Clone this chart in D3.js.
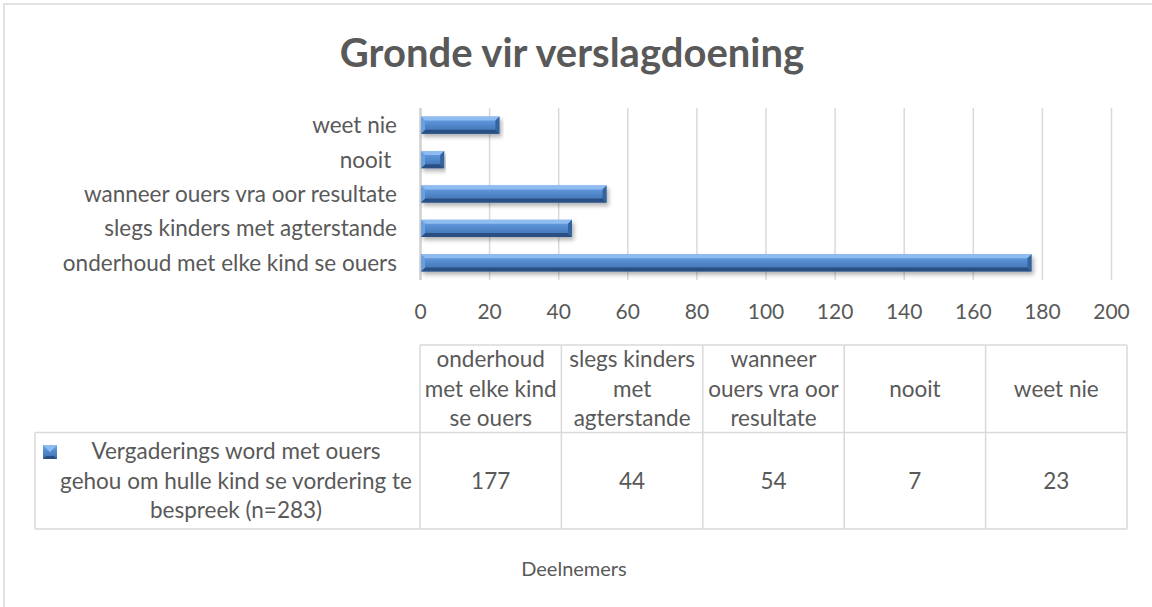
<!DOCTYPE html>
<html>
<head>
<meta charset="utf-8">
<script src="https://cdn.jsdelivr.net/npm/d3@7"></script>
<style>
  html, body { margin: 0; padding: 0; background: #fff; }
  svg { display: block; }
  text { font-family: Lato, "Open Sans", sans-serif; fill: #595959; white-space: pre; }
</style>
</head>
<body>
<svg id="chart" width="1152" height="607"></svg>
<script>
// ---- data ----
const title = "Gronde vir verslagdoening";
const categories = ["onderhoud met elke kind se ouers", "slegs kinders met agterstande", "wanneer ouers vra oor resultate", "nooit ", "weet nie"];
const values = [177, 44, 54, 7, 23];
const seriesName = "Vergaderings word met ouers gehou om hulle kind se vordering te bespreek (n=283)";
const seriesLines = ["Vergaderings word met ouers", "gehou om hulle kind se vordering te", "bespreek (n=283)"];
const xTicks = [0, 20, 40, 60, 80, 100, 120, 140, 160, 180, 200];
const axisTitle = "Deelnemers";

// ---- layout ----
const svg = d3.select("#chart");
const W = 1152, H = 607;
const plot = { left: 420, right: 1111, top: 108, bottom: 280 };
const table = { left: 35, colLeft: 420, right: 1127, top: 345, mid: 432.5, bottom: 529 };
const fs = 22.5;
const tickFs = 21;
const lineH = 29.5;
const grid = "#d9d9d9";

// chart border
svg.append("rect").attr("x", 4).attr("y", 4).attr("width", W + 20).attr("height", H + 20)
  .attr("fill", "#fff").attr("stroke", grid).attr("stroke-width", 1.5);

const defs = svg.append("defs");
const face = defs.append("linearGradient").attr("id", "face").attr("x1", 0).attr("y1", 0).attr("x2", 0).attr("y2", 1);
face.append("stop").attr("offset", "0%").attr("stop-color", "#76a9e8");
face.append("stop").attr("offset", "30%").attr("stop-color", "#5b93d8");
face.append("stop").attr("offset", "100%").attr("stop-color", "#3b6dab");
const sh = defs.append("filter").attr("id", "shadow").attr("x", "-5%").attr("y", "-50%").attr("width", "110%").attr("height", "200%");
sh.append("feDropShadow").attr("dx", 2).attr("dy", 3).attr("stdDeviation", 2).attr("flood-color", "#000").attr("flood-opacity", 0.3);

// title
svg.append("text").attr("x", 572).attr("y", 67).attr("text-anchor", "middle")
  .style("font-weight", "bold").style("font-size", "40px").text(title);

// scales
const x = d3.scaleLinear().domain([0, 200]).range([plot.left, plot.right]);
const y = d3.scaleBand().domain(categories.slice().reverse()).range([plot.top, plot.bottom])
  .paddingInner(0.5).paddingOuter(0.25);

// gridlines
const gridAxis = d3.axisBottom(x).tickValues(xTicks).tickSize(-(plot.bottom - plot.top)).tickFormat("");
const gg = svg.append("g").attr("transform", `translate(0,${plot.bottom})`).call(gridAxis);
gg.select(".domain").remove();
gg.selectAll("line").attr("stroke", grid).attr("stroke-width", 1.5);
gg.selectAll(".tick").filter(d => d === 0).select("line").attr("stroke", "#d0d0d0").attr("stroke-width", 2.5);

// tick labels
const tAxis = d3.axisBottom(x).tickValues(xTicks).tickSize(0).tickPadding(0);
const tg = svg.append("g").attr("transform", `translate(0,${plot.bottom + 39})`).call(tAxis);
tg.select(".domain").remove();
tg.selectAll("text").attr("dy", 0).attr("y", 0).style("font-size", tickFs + "px").attr("fill", "#595959")
  .style("font-family", "Lato, sans-serif");

// category labels
svg.append("g").selectAll("text").data(categories).join("text")
  .attr("x", 397).attr("y", d => y(d) + y.bandwidth() / 2 + 8)
  .attr("text-anchor", "end").style("font-size", fs + "px").text(d => d);

// bars
const bev = 4;
const bars = svg.append("g").selectAll("g").data(categories.map((c, i) => ({ c, v: values[i] }))).join("g")
  .attr("filter", "url(#shadow)");
bars.each(function (d) {
  const g = d3.select(this);
  const x0 = x(0) + 1, x1 = x(d.v), y0 = y(d.c), h = y.bandwidth(), y1 = y0 + h;
  g.append("rect").attr("x", x0).attr("y", y0).attr("width", x1 - x0).attr("height", h).attr("fill", "url(#face)");
  g.append("path").attr("d", `M${x0},${y0}L${x1},${y0}L${x1 - bev},${y0 + bev}L${x0 + bev},${y0 + bev}Z`).attr("fill", "#8ebcf0");
  g.append("path").attr("d", `M${x0},${y1}L${x1},${y1}L${x1 - bev},${y1 - bev}L${x0 + bev},${y1 - bev}Z`).attr("fill", "#2a5083");
  g.append("path").attr("d", `M${x1},${y0}L${x1},${y1}L${x1 - bev},${y1 - bev}L${x1 - bev},${y0 + bev}Z`).attr("fill", "#34639c");
  g.append("path").attr("d", `M${x0},${y0}L${x0},${y1}L${x0 + bev},${y1 - bev}L${x0 + bev},${y0 + bev}Z`).attr("fill", "#6a9fe0");
});

// data table
const colW = (table.right - table.colLeft) / categories.length;
const tb = svg.append("g");
const line = (x1, y1, x2, y2) => tb.append("line").attr("x1", x1).attr("y1", y1).attr("x2", x2).attr("y2", y2)
  .attr("stroke", grid).attr("stroke-width", 1.5);
line(table.colLeft, table.top, table.right, table.top);
line(table.left, table.mid, table.right, table.mid);
line(table.left, table.bottom, table.right, table.bottom);
line(table.left, table.mid, table.left, table.bottom);
for (let i = 0; i <= categories.length; i++) {
  const cx = table.colLeft + i * colW;
  line(cx, table.top, cx, table.bottom);
}

function wrap(str, maxW, size) {
  const probe = svg.append("text").style("font-size", size + "px");
  const words = str.trim().split(/\s+/);
  const lines = [];
  let cur = "";
  words.forEach(w => {
    const t = cur ? cur + " " + w : w;
    probe.text(t);
    if (probe.node().getComputedTextLength() > maxW && cur) { lines.push(cur); cur = w; }
    else cur = t;
  });
  if (cur) lines.push(cur);
  probe.remove();
  return lines;
}

categories.forEach((c, i) => {
  const cx = table.colLeft + (i + 0.5) * colW;
  const lines = wrap(c, colW - 2, fs);
  const cy = (table.top + table.mid) / 2;
  const t = tb.append("text").attr("text-anchor", "middle").style("font-size", fs + "px");
  lines.forEach((l, k) => {
    t.append("tspan").attr("x", cx).attr("y", cy + (k - (lines.length - 1) / 2) * lineH + 8).text(l);
  });
  tb.append("text").attr("x", cx).attr("y", (table.mid + table.bottom) / 2 + 8)
    .attr("text-anchor", "middle").style("font-size", fs + "px").text(values[i]);
});

// legend key + series name
const ky = 445, kx = 43, ks = 14;
const kg = tb.append("g");
kg.append("rect").attr("x", kx).attr("y", ky).attr("width", ks).attr("height", ks).attr("fill", "url(#face)");
kg.append("path").attr("d", `M${kx},${ky}L${kx + ks},${ky}L${kx + ks / 2},${ky + ks / 2}Z`).attr("fill", "#8ebcf0");
kg.append("path").attr("d", `M${kx},${ky + ks}L${kx + ks},${ky + ks}L${kx + ks - 3},${ky + ks - 3}L${kx + 3},${ky + ks - 3}Z`).attr("fill", "#2a5083");
const lt = tb.append("text").attr("text-anchor", "middle").style("font-size", fs + "px");
const lcy = (table.mid + table.bottom) / 2;
seriesLines.forEach((l, k) => {
  lt.append("tspan").attr("x", 236).attr("y", lcy + (k - 1) * lineH + 8).text(l);
});

// axis title
svg.append("text").attr("x", 574).attr("y", 576).attr("text-anchor", "middle")
  .style("font-size", "20px").text(axisTitle);
</script>
</body>
</html>
